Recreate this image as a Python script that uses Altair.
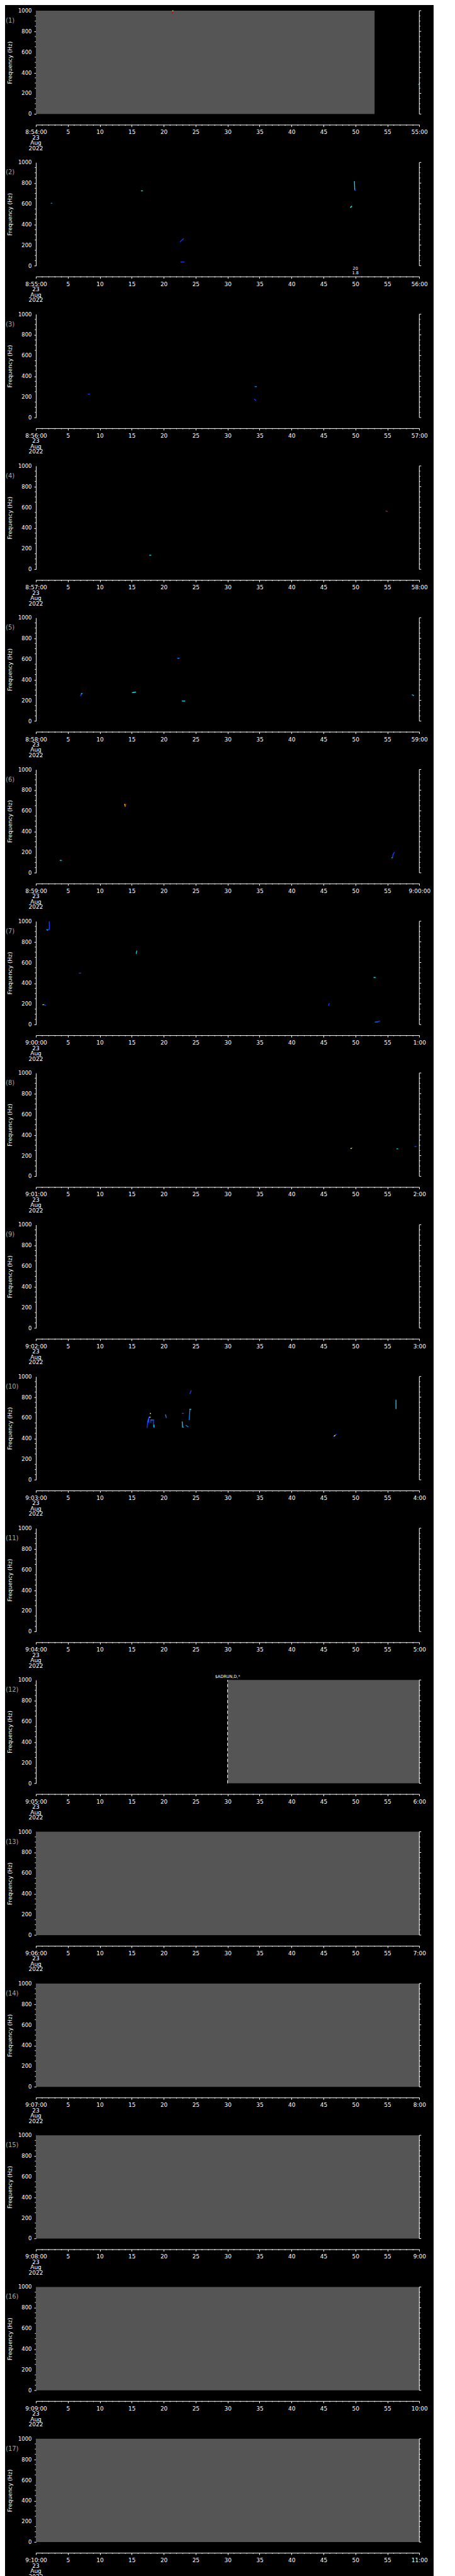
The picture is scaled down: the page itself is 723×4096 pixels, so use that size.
import altair as alt
import pandas as pd

FONT = "DejaVu Sans"

# ---------------- data ----------------
panel_ids = list(range(1, 18))
start_labels = ["8:54:00", "8:55:00", "8:56:00", "8:57:00", "8:58:00", "8:59:00",
                "9:00:00", "9:01:00", "9:02:00", "9:03:00", "9:04:00", "9:05:00",
                "9:06:00", "9:07:00", "9:08:00", "9:09:00", "9:10:00"]
end_labels = ["55:00", "56:00", "57:00", "58:00", "59:00", "9:00:00", "1:00", "2:00",
              "3:00", "4:00", "5:00", "6:00", "7:00", "8:00", "9:00", "10:00", "11:00"]
date_text = "23\nAug\n2022"

freq_major = [0, 200, 400, 600, 800, 1000]
freq_labels = ["0", "200", "400", "600", "800", "1000"]
freq_minor = [f for f in range(0, 1001, 50) if f % 200 != 0]
time_major = list(range(0, 61, 5))
time_minor = [t for t in range(0, 61) if t % 5 != 0]

# grey "no data" blocks (seconds within the minute)
gray_panel = [1, 12, 13, 14, 15, 16, 17]
gray_t0 = [0, 30, 0, 0, 0, 0, 0]
gray_t1 = [53, 60, 60, 60, 60, 60, 60]
gray_f0 = [0, 0, 0, 0, 0, 0, 0]
gray_f1 = [1000, 1000, 1000, 1000, 1000, 1000, 1000]

# dashed marker line
dash_panel = [12]
dash_t = [30]

# short spectral features: panel, t0 (s), f0 (Hz), t1 (s), f1 (Hz), colour
BLUE, LBLUE, CYAN, GREEN, YEL, RED = "#1f3cff", "#0090ff", "#00e0ff", "#40ff80", "#e8ff00", "#d00000"
seg_panel = [1, 1, 1,
             2, 2, 2, 2, 2, 2, 2, 2,
             3, 3, 3,
             4, 4, 4,
             5, 5, 5, 5, 5, 5, 5,
             6, 6, 6, 6, 6, 6,
             7, 7, 7, 7, 7, 7, 7, 7, 7, 7, 7,
             8, 8, 8, 8,
             10, 10, 10, 10, 10, 10, 10, 10, 10, 10, 10, 10, 10, 10, 10, 10, 10, 10, 10, 10]
seg_t0 = [21.4, 21.4, 59.9,
          2.4, 16.5, 22.6, 22.7, 49.85, 49.9, 49.25, 49.3,
          8.2, 34.3, 34.2,
          17.8, 54.8, 54.8,
          7.0, 7.1, 15.1, 15.3, 22.2, 22.9, 58.9,
          3.8, 13.9, 14.0, 55.7, 55.8, 55.9,
          2.1, 2.1, 1.75, 1.1, 1.3, 6.8, 15.7, 45.8, 52.9, 53.1, 53.5,
          49.3, 49.3, 56.5, 59.3,
          17.4, 17.5, 17.7, 17.8, 17.9, 18.0, 18.0, 18.4, 18.5, 20.3, 22.9, 22.9, 22.95,
          23.5, 24.1, 24.1, 24.1, 46.6, 46.7, 56.35]
seg_f0 = [975, 997, 287,
          605, 725, 234, 37, 815, 732, 564, 570,
          226, 299, 178,
          136, 564, 564,
          244, 262, 275, 278, 607, 194, 254,
          120, 663, 643, 146, 150, 178,
          995, 922, 918, 192, 192, 498, 688, 186, 456, 24, 28,
          269, 269, 266, 288,
          506, 561, 606, 606, 642, 554, 579, 579, 509, 630, 643, 561, 509,
          527, 682, 682, 835, 421, 424, 770]
seg_t1 = [21.4, 21.45, 60.0,
          2.5, 16.7, 23.1, 23.2, 49.9, 50.0, 49.4, 49.4,
          8.4, 34.5, 34.4,
          18.0, 55.0, 54.85,
          7.2, 7.2, 15.6, 15.6, 22.4, 23.3, 59.1,
          4.0, 14.0, 14.1, 55.8, 55.9, 56.1,
          2.1, 1.8, 1.8, 1.3, 1.5, 7.0, 15.8, 45.9, 53.1, 53.5, 53.8,
          49.5, 49.35, 56.6, 59.5,
          17.5, 17.7, 17.7, 17.9, 17.95, 18.0, 18.4, 18.4, 18.5, 20.4, 23.1, 22.95, 23.1,
          23.8, 24.0, 24.25, 24.3, 47.0, 46.8, 56.35]
seg_f1 = [1000, 1000, 287,
          605, 725, 261, 37, 732, 730, 575, 575,
          226, 299, 167,
          136, 559, 564,
          267, 267, 280, 280, 607, 194, 248,
          120, 643, 663, 146, 178, 198,
          922, 914, 914, 192, 186, 498, 712, 202, 456, 26, 32,
          275, 270, 266, 288,
          561, 606, 554, 606, 642, 579, 579, 514, 530, 603, 643, 509, 509,
          514, 582, 682, 862, 441, 428, 689]
seg_color = [RED, GREEN, CYAN,
             LBLUE, CYAN, BLUE, BLUE, CYAN, BLUE, YEL, CYAN,
             BLUE, LBLUE, BLUE,
             CYAN, BLUE, RED,
             BLUE, CYAN, GREEN, CYAN, LBLUE, CYAN, CYAN,
             CYAN, YEL, RED, CYAN, BLUE, BLUE,
             BLUE, BLUE, CYAN, YEL, BLUE, BLUE, CYAN, BLUE, CYAN, LBLUE, BLUE,
             BLUE, YEL, CYAN, BLUE,
             BLUE, LBLUE, BLUE, YEL, YEL, BLUE, LBLUE, BLUE, CYAN, LBLUE, BLUE, CYAN, LBLUE,
             LBLUE, LBLUE, CYAN, BLUE, BLUE, YEL, CYAN]

# text notes
note_panel = [2, 12]
note_t = [50, 30]
note_text = ["20\n1.8", "$ADRUN,D,*"]
note_side = ["below", "above"]

# ---------------- tables ----------------
gray_df = pd.DataFrame({"p": gray_panel, "t0": gray_t0, "t1": gray_t1, "f0": gray_f0, "f1": gray_f1})
dash_df = pd.DataFrame({"p": dash_panel, "t": dash_t, "f0": [0] * len(dash_panel),
                        "f1": [1000] * len(dash_panel)})
seg_df = pd.DataFrame({"p": seg_panel, "t0": seg_t0, "f0": seg_f0, "t1": seg_t1,
                       "f1": seg_f1, "c": seg_color})
note_df = pd.DataFrame({"p": note_panel, "t": note_t, "txt": note_text, "side": note_side})
fminor_df = pd.DataFrame({"f": freq_minor})
fmajor_df = pd.DataFrame({"f": freq_major, "lab": freq_labels})
tminor_df = pd.DataFrame({"t": time_minor})
frame_df = pd.DataFrame({"f0": [0], "f1": [1000], "t0": [0]})

W, H = 609.3, 164.3
PITCH = 240.6
AX_OFF = 17
XS = alt.Scale(domain=[0, 60], nice=False, zero=False)
YS = alt.Scale(domain=[0, 1000], nice=False, zero=False)
MAJ, MIN = 3.0, 1.6


def make_panel(i):
    k = panel_ids[i]
    s, e = start_labels[i], end_labels[i]
    lab_expr = (f"datum.value === 0 ? '{s}' : datum.value === 60 ? '{e}' : '' + datum.value")
    xaxis = alt.Axis(values=time_major, tickSize=MAJ, labelExpr=lab_expr, offset=AX_OFF,
                     labelFontSize=9, labelOverlap=False, labelFlush=False,
                     labelPadding=4.5, labelBound=False, title=None)
    yaxis_left = alt.Axis(values=freq_major, tickSize=MAJ, labels=False,
                          title="Frequency (Hz)", titleFontSize=9, titleFontWeight="normal",
                          titlePadding=33)

    g = gray_df[gray_df.p == k]
    base = alt.Chart(g).mark_rect(color="#555555").encode(
        x=alt.X("t0:Q", scale=XS, axis=xaxis),
        x2="t1:Q",
        y=alt.Y("f0:Q", scale=YS, axis=yaxis_left),
        y2="f1:Q",
    )
    layers = [base]

    d = dash_df[dash_df.p == k]
    layers.append(alt.Chart(d).mark_rule(color="white", strokeDash=[5, 3.5], strokeWidth=1).encode(
        x=alt.X("t:Q", scale=XS),
        y=alt.Y("f0:Q", scale=YS),
        y2="f1:Q",
    ))

    sg = seg_df[seg_df.p == k]
    layers.append(alt.Chart(sg).mark_rule(strokeWidth=1.3, strokeCap="square").encode(
        x=alt.X("t0:Q", scale=XS),
        x2="t1:Q",
        y=alt.Y("f0:Q", scale=YS),
        y2="f1:Q",
        color=alt.Color("c:N", scale=None),
    ))

    # frequency tick labels on the left
    layers.append(alt.Chart(fmajor_df).mark_text(color="white", font=FONT, fontSize=8.5,
                                                  align="right", baseline="middle").encode(
        x=alt.value(-(MAJ + 3.5)), y=alt.Y("f:Q", scale=YS), text="lab:N"))

    # right-hand frequency axis (line + ticks), left minor ticks, time minor ticks
    layers.append(alt.Chart(frame_df).mark_rule(color="white", strokeWidth=1).encode(
        x=alt.value(W), y=alt.Y("f0:Q", scale=YS), y2="f1:Q"))
    layers.append(alt.Chart(fmajor_df).mark_rule(color="white", strokeWidth=1).encode(
        x=alt.value(W), x2=alt.value(W + MAJ), y=alt.Y("f:Q", scale=YS)))
    layers.append(alt.Chart(fminor_df).mark_rule(color="white", strokeWidth=1).encode(
        x=alt.value(W), x2=alt.value(W + MIN), y=alt.Y("f:Q", scale=YS)))
    layers.append(alt.Chart(fminor_df).mark_rule(color="white", strokeWidth=1).encode(
        x=alt.value(-MIN), x2=alt.value(0), y=alt.Y("f:Q", scale=YS)))
    layers.append(alt.Chart(tminor_df).mark_rule(color="white", strokeWidth=1).encode(
        x=alt.X("t:Q", scale=XS), y=alt.value(H + AX_OFF), y2=alt.value(H + AX_OFF + MIN)))

    # date under first time label
    layers.append(alt.Chart(frame_df).mark_text(color="white", font=FONT, fontSize=9,
                                                 baseline="top", align="center", lineBreak="\n",
                                                 lineHeight=8.5).encode(
        x=alt.X("t0:Q", scale=XS), y=alt.value(H + AX_OFF + 16.5),
        text=alt.value(date_text)))

    nt = note_df[(note_df.p == k) & (note_df.side == "below")]
    layers.append(alt.Chart(nt).mark_text(color="white", font=FONT, fontSize=6.5, baseline="top",
                                          lineBreak="\n", lineHeight=6.5, align="center").encode(
        x=alt.X("t:Q", scale=XS), y=alt.value(H + 1.5), text="txt:N"))
    na = note_df[(note_df.p == k) & (note_df.side == "above")]
    layers.append(alt.Chart(na).mark_text(color="white", font=FONT, fontSize=6.5,
                                          baseline="bottom", align="center").encode(
        x=alt.X("t:Q", scale=XS), y=alt.value(-2), text="txt:N"))

    lab = pd.DataFrame({"lab": [f"({k})"]})
    layers.append(alt.Chart(lab).mark_text(color="#a8a8a8", font=FONT, fontSize=10,
                                           align="left", baseline="middle").encode(
        x=alt.value(-48), y=alt.value(16), text="lab:N"))

    return alt.layer(*layers).properties(width=W, height=H)


panels = [make_panel(i) for i in range(len(panel_ids))]
chart = alt.vconcat(*panels, spacing=PITCH - H, bounds="flush").properties(
    background="black",
    padding={"left": 1, "top": 5, "right": 5, "bottom": 2},
).configure(font=FONT).configure_view(stroke=None).configure_axis(
    domainColor="white", tickColor="white", labelColor="white", titleColor="white",
    labelFont=FONT, titleFont=FONT, grid=False, domainWidth=1, tickWidth=1,
    labelOverlap=False, labelFlush=False,
)

chart.save("out.html", embed_options={"renderer": "svg", "actions": False})
